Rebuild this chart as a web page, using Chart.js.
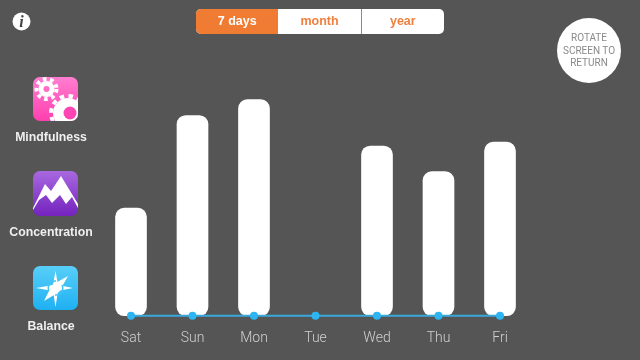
<!DOCTYPE html>
<html>
<head>
<meta charset="utf-8">
<script src="https://cdn.jsdelivr.net/npm/chart.js@4"></script>
<style>
    html, body { margin: 0; padding: 0; background: #555555; }
    #page { position: relative; width: 640px; height: 360px; overflow: hidden; background: #555555; font-family: "Liberation Sans", sans-serif; }
    #chart-wrap { position: absolute; left: 0; top: 0; width: 640px; height: 360px; }
    .tabs { position: absolute; left: 196px; top: 9px; width: 248px; height: 25px; display: flex; border-radius: 5px; overflow: hidden; background: #fff; }
    .tabs div { flex: 1; text-align: center; font-size: 12.5px; font-weight: bold; line-height: 25px; color: #ee8140; }
    .tabs div.active { background: #f07c33; color: #fff; }
    .tabs div + div + div { border-left: 1px solid #8a8a8a; }
    .rotate { position: absolute; left: 557px; top: 18px; width: 64px; height: 65px; border-radius: 50%; background: #fff; color: #8a8a8a; font-family: Roboto, sans-serif; font-size: 10px; line-height: 12.5px; text-align: center; padding-top: 14px; box-sizing: border-box; }
    .label { position: absolute; width: 102px; left: 0; text-align: center; font-size: 12.3px; font-weight: bold; color: #efefef; }
    svg.icons { position: absolute; left: 0; top: 0; }
</style>
</head>
<body>
<div id="page">
    <div id="chart-wrap"><canvas id="usage-chart"></canvas></div>

    <div class="tabs"><div class="active">7 days</div><div>month</div><div>year</div></div>
    <div class="rotate">ROTATE<br>SCREEN TO<br>RETURN</div>

    <svg class="icons" width="110" height="330">
        <defs>
            <linearGradient id="pink" x1="0" y1="0" x2="0" y2="1"><stop offset="0" stop-color="#ff7ed0"/><stop offset="1" stop-color="#ff3fb0"/></linearGradient>
            <linearGradient id="purple" x1="0" y1="0" x2="0" y2="1"><stop offset="0" stop-color="#a868e0"/><stop offset="1" stop-color="#7423bd"/></linearGradient>
            <linearGradient id="blue" x1="0" y1="0" x2="0" y2="1"><stop offset="0" stop-color="#58cff8"/><stop offset="1" stop-color="#1fb0f2"/></linearGradient>
            <clipPath id="clip-pink"><rect x="33" y="77" width="45" height="44" rx="7"/></clipPath>
        </defs>

        <!-- info button -->
        <circle cx="21.5" cy="21.5" r="9" fill="#fff"/>
        <text x="21.5" y="27" text-anchor="middle" font-family="Liberation Serif" font-style="italic" font-weight="bold" font-size="16" fill="#444">i</text>

        <!-- mindfulness icon -->
        <rect x="33" y="77" width="45" height="44" rx="7" fill="url(#pink)"/>
        <g clip-path="url(#clip-pink)">
            <circle cx="46.5" cy="89" r="8" fill="#fff"/>
            <circle cx="46.5" cy="89" r="10" fill="none" stroke="#fff" stroke-width="4" stroke-dasharray="3.6 3.6"/>
            <circle cx="46.5" cy="89" r="3" fill="#ff6cc6"/>
            <circle cx="68" cy="113" r="15" fill="#fff"/>
            <circle cx="68" cy="113" r="17" fill="none" stroke="#fff" stroke-width="4" stroke-dasharray="4.5 4.4"/>
            <circle cx="70" cy="113" r="6.5" fill="#ff45b4"/>
        </g>

        <!-- concentration icon -->
        <rect x="33" y="171" width="45" height="45" rx="7" fill="url(#purple)"/>
        <polygon fill="#fff" points="33,208 45,184 51,191 61,176 78,204 78,208 72,197 66,204 60,195 52,203 46,195 39,200 33,210"/>

        <!-- balance icon -->
        <rect x="33" y="266" width="45" height="44" rx="7" fill="url(#blue)"/>
        <polygon fill="#fff" points="55.5,271 58,285 73,288 58,291 55.5,307 53,291 36,288 53,285"/>
        <polygon fill="#fff" points="44,301 52,285 68,276 59,292"/>
        <path d="M49 291 A7 7 0 0 1 56 281 M62 285 A7 7 0 0 1 55 295" fill="none" stroke="#3fc3f6" stroke-width="1.5"/>
    </svg>

    <div class="label" style="top: 130px;">Mindfulness</div>
    <div class="label" style="top: 225px;">Concentration</div>
    <div class="label" style="top: 319px;">Balance</div>
</div>

<script>
// Chart data
const days = ['Sat', 'Sun', 'Mon', 'Tue', 'Wed', 'Thu', 'Fri'];
const sessionValues = [54.5, 101.5, 109.5, 0, 86, 73, 88];
const baselineValues = [0, 0, 0, 0, 0, 0, 0];
const yMax = 158;

const ctx = document.getElementById('usage-chart').getContext('2d');

new Chart(ctx, {
    type: 'bar',
    data: {
        labels: days,
        datasets: [
            {
                type: 'line',
                data: baselineValues,
                borderColor: '#3aa8dc',
                borderWidth: 2,
                pointRadius: 4,
                pointBackgroundColor: '#2db5f2',
                pointBorderWidth: 0,
                clip: false,
                order: 0
            },
            {
                data: sessionValues,
                backgroundColor: '#ffffff',
                borderRadius: 9,
                borderSkipped: false,
                barThickness: 31,
                clip: false,
                order: 1
            }
        ]
    },
    options: {
        responsive: true,
        maintainAspectRatio: false,
        animation: false,
        layout: {
            padding: { left: 100.25, right: 109.25, top: 0, bottom: 7.5 }
        },
        plugins: {
            legend: { display: false },
            tooltip: { enabled: false }
        },
        scales: {
            x: {
                grid: { display: false },
                border: { display: false },
                ticks: {
                    color: '#d0d0d0',
                    padding: 6,
                    font: { family: 'Roboto', size: 14, weight: '300' }
                }
            },
            y: {
                display: false,
                min: 0,
                max: yMax
            }
        }
    }
});
</script>
</body>
</html>
